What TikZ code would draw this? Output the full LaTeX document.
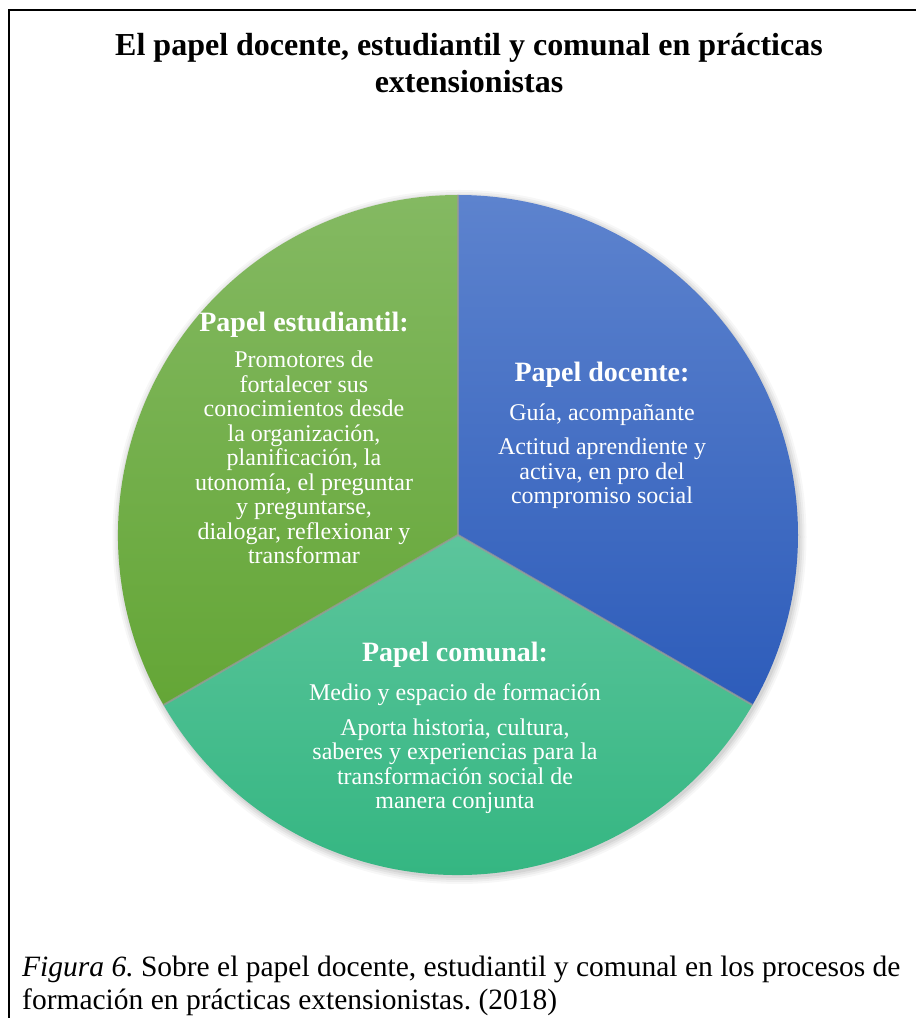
\documentclass[tikz,border=0pt]{standalone}
\usepackage{fontspec}
\setmainfont{Liberation Serif}
\usepackage{tikz}
\usetikzlibrary{positioning}
\usetikzlibrary{calc}

\definecolor{docentetop}{RGB}{93,131,206}
\definecolor{docentebot}{RGB}{45,92,186}
\definecolor{estudtop}{RGB}{132,185,98}
\definecolor{estudbot}{RGB}{100,166,54}
\definecolor{comuntop}{RGB}{92,197,156}
\definecolor{comunbot}{RGB}{47,180,126}

\frenchspacing

\begin{document}
\begin{tikzpicture}[x=1pt, y=1pt,
    head/.style={text=white, font=\fontsize{28}{30}\selectfont\bfseries, inner sep=0pt, anchor=base},
    body/.style={text=white, font=\fontsize{24}{24.5}\selectfont, align=center, inner sep=0pt},
    gap/.style={draw=black!40, line width=2pt, opacity=0.75}]

    \useasboundingbox (0,0) rectangle (916,1018);

    % frame
    \draw[line width=2pt] (8.5,0) -- (8.5,1008) -- (916,1008);

    \node[anchor=north, align=center, inner sep=0pt, font=\fontsize{32}{37}\selectfont\bfseries] (title) at (469,985)
        {El papel docente, estudiantil y comunal en prácticas\\ extensionistas};

    % pie
    \coordinate (o) at (458,483);
    \coordinate (p1) at ($(o)+(90:340)$);
    \coordinate (p2) at ($(o)+(-30:340)$);
    \coordinate (p3) at ($(o)+(210:340)$);

    \foreach \r/\op in {347/0.03, 345/0.04, 343/0.05, 341/0.06}
        \fill[black, opacity=\op] ($(o)+(1.5,-2)$) circle (\r);

    \shade[top color=docentetop, bottom color=docentebot] (o) -- (p1) arc[start angle=90, end angle=-30, radius=340] -- cycle;
    \shade[top color=comuntop, bottom color=comunbot] (o) -- (p2) arc[start angle=-30, end angle=-150, radius=340] -- cycle;
    \shade[top color=estudtop, bottom color=estudbot] (o) -- (p3) arc[start angle=210, end angle=90, radius=340] -- cycle;

    \draw[gap] (o) -- (p1);
    \draw[gap] (o) -- (p2);
    \draw[gap] (o) -- (p3);

    % docente
    \node[head] (hd) at (602,636) {Papel docente:};
    \node[body, below=15.3pt of hd] (bd1) {Guía, acompañante};
    \node[body, below=12.4pt of bd1] (bd2) {Actitud aprendiente y\\ activa, en pro del\\ compromiso social};

    % estudiantil
    \node[head] (he) at (304,686) {Papel estudiantil:};
    \node[body, below=12.5pt of he] (be1) {Promotores de\\ fortalecer sus\\ conocimientos desde\\ la organización,\\ planificación, la\\ utonomía, el preguntar\\ y preguntarse,\\ dialogar, reflexionar y\\ transformar};

    % comunal
    \node[head] (hc) at (455,356) {Papel comunal:};
    \node[body, below=15.3pt of hc] (bc1) {Medio y espacio de formación};
    \node[body, below=12.4pt of bc1] (bc2) {Aporta historia, cultura,\\ saberes y experiencias para la\\ transformación social de\\ manera conjunta};

    \node[anchor=north west, align=left, inner sep=0pt, font=\fontsize{29.5}{33}\selectfont] (caption) at (22,62)
        {\textit{Figura 6.} Sobre el papel docente, estudiantil y comunal en los procesos de\\ formación en prácticas extensionistas. (2018)};

\end{tikzpicture}
\end{document}
